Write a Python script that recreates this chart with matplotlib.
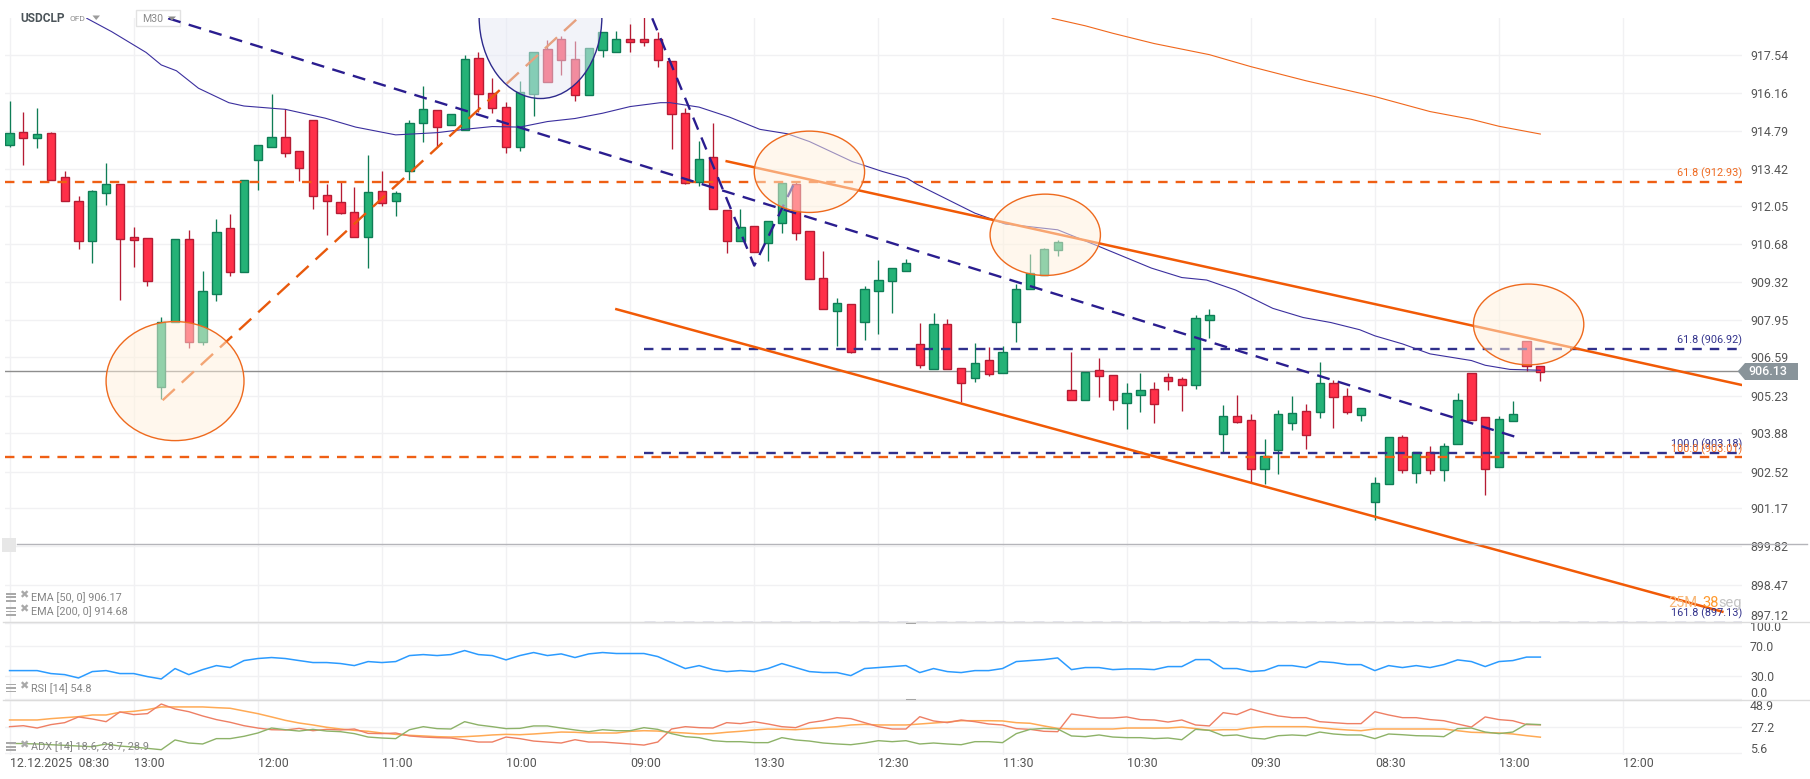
import matplotlib
matplotlib.use('Agg')
import matplotlib.pyplot as plt
from matplotlib.patches import Ellipse, Polygon, Rectangle
from matplotlib.lines import Line2D
from matplotlib.transforms import Affine2D

plt.rcParams['font.family'] = ['Roboto', 'DejaVu Sans']

W, H = 1810, 779

# candles, one row per field
opens = [914.32, 914.77, 914.54, 914.73, 913.14, 912.28, 910.86, 912.59, 912.89, 910.98,
         910.95, 905.60, 907.94, 910.91, 907.22, 908.92, 911.31, 909.74, 913.78, 914.25,
         914.59, 914.08, 915.20, 912.49, 912.24, 911.88, 911.00, 912.64, 912.27, 913.37,
         915.08, 915.56, 915.01, 914.84, 917.43, 916.17, 915.67, 914.25, 916.16, 917.76,
         918.12, 917.40, 916.09, 917.74, 917.67, 918.12, 918.12, 918.12, 917.32, 915.45,
         912.99, 913.87, 911.96, 910.86, 911.38, 910.79, 911.49, 912.89, 911.20, 909.50,
         908.34, 908.57, 907.92, 909.06, 909.42, 909.78, 907.13, 906.24, 907.85, 906.28,
         905.90, 906.55, 906.10, 907.94, 909.13, 909.61, 910.54, 905.47, 905.13, 906.19,
         906.01, 905.02, 905.31, 905.50, 905.94, 905.86, 905.67, 908.01, 903.91, 904.53,
         904.39, 902.65, 903.33, 904.30, 904.71, 904.70, 905.72, 905.25, 904.56, 901.46,
         902.08, 903.77, 902.50, 903.23, 902.61, 903.55, 906.08, 904.50, 902.69, 904.35,
         907.23, 906.33]
highs = [915.89, 915.50, 915.64, 914.78, 913.37, 912.45, 912.69, 913.66, 912.89, 911.35,
         910.95, 908.11, 910.91, 911.25, 909.77, 911.64, 911.82, 913.04, 914.30, 916.15,
         915.59, 914.08, 915.20, 912.90, 912.99, 912.80, 913.95, 913.37, 912.64, 915.20,
         916.44, 915.56, 915.41, 917.54, 917.66, 916.72, 915.86, 916.62, 917.65, 918.09,
         918.24, 918.06, 917.79, 918.37, 918.42, 918.67, 919.17, 918.37, 917.32, 915.63,
         914.45, 915.09, 911.96, 912.00, 911.38, 911.56, 912.93, 912.99, 911.20, 910.48,
         908.78, 908.57, 909.23, 910.15, 909.87, 910.19, 907.90, 908.26, 908.03, 906.28,
         907.17, 907.02, 907.05, 909.30, 910.38, 910.59, 910.89, 906.84, 906.14, 906.62,
         906.01, 905.73, 906.09, 905.77, 906.10, 905.94, 908.17, 908.40, 904.94, 905.30,
         904.60, 903.71, 904.76, 905.27, 904.98, 906.49, 905.84, 905.55, 904.82, 902.33,
         903.77, 903.86, 903.23, 903.45, 903.56, 905.37, 906.08, 904.50, 904.54, 905.08,
         907.23, 906.33]
lows = [914.25, 913.60, 914.20, 913.06, 912.30, 910.56, 910.06, 912.16, 908.72, 909.91,
        909.23, 905.16, 907.94, 907.00, 907.11, 908.70, 909.59, 909.74, 912.69, 914.25,
        913.89, 913.01, 912.00, 911.07, 911.82, 911.00, 909.88, 912.11, 911.75, 913.05,
        914.42, 914.25, 915.01, 914.84, 915.51, 915.47, 914.02, 914.09, 915.35, 916.56,
        916.84, 915.89, 916.09, 917.46, 917.67, 917.64, 917.89, 917.10, 914.16, 912.90,
        912.84, 912.00, 910.43, 910.86, 910.44, 910.14, 911.15, 910.89, 909.47, 908.39,
        907.07, 906.82, 907.28, 907.51, 908.27, 909.78, 906.28, 906.24, 906.24, 905.06,
        905.78, 905.98, 906.08, 907.21, 909.13, 909.61, 910.32, 905.13, 905.13, 905.24,
        904.76, 904.08, 904.69, 904.29, 905.48, 904.72, 905.52, 907.35, 903.23, 904.29,
        902.14, 902.09, 902.45, 904.04, 903.35, 904.47, 904.11, 904.63, 904.36, 900.81,
        902.08, 902.50, 902.14, 902.45, 902.21, 903.55, 904.41, 901.70, 902.69, 904.35,
        906.17, 905.80]
closes = [914.73, 914.54, 914.69, 913.06, 912.30, 910.86, 912.64, 912.89, 910.93, 910.90,
          909.42, 907.94, 910.91, 907.22, 909.04, 911.16, 909.74, 913.04, 914.30, 914.59,
          914.03, 913.49, 912.45, 912.27, 911.87, 911.00, 912.60, 912.23, 912.57, 915.09,
          915.59, 914.97, 915.41, 917.40, 916.16, 915.65, 914.25, 916.21, 917.65, 916.56,
          917.35, 916.09, 917.79, 918.37, 918.12, 918.03, 918.03, 917.35, 915.41, 912.95,
          913.79, 912.00, 910.83, 911.34, 910.44, 911.56, 912.93, 911.13, 909.47, 908.39,
          908.60, 906.86, 909.11, 909.43, 909.87, 910.05, 906.39, 907.85, 906.24, 905.72,
          906.44, 906.07, 906.84, 909.11, 909.69, 910.55, 910.80, 905.13, 906.14, 905.99,
          905.13, 905.36, 905.47, 904.99, 905.82, 905.67, 908.06, 908.17, 904.53, 904.34,
          902.65, 903.09, 904.60, 904.64, 903.87, 905.72, 905.24, 904.70, 904.82, 902.12,
          903.77, 902.61, 903.23, 902.61, 903.45, 905.11, 904.41, 902.65, 904.42, 904.60,
          906.33, 906.13]

# indicators on the price panel
ema50_idx = [5.6, 7.4, 9.9, 11, 12.1, 13.7, 15.9, 17, 20, 22.9, 25.1, 28, 31, 33, 35, 37, 39, 41, 43, 45,
             47.2, 47.9, 50, 52.2, 54.4, 56.4, 58, 61.1, 63.3, 65.1, 65.8, 70, 72.2, 76, 79, 82.8, 85,
             86.8, 88.9, 91.6, 93.8, 95.8, 97.9, 99, 101, 103, 106, 107, 108.8, 111]
ema50 = [918.87, 918.39, 917.64, 917.19, 916.98, 916.35, 915.83, 915.71, 915.59, 915.27, 914.95, 914.67,
         914.75, 914.87, 914.97, 914.95, 915.15, 915.26, 915.45, 915.69, 915.83, 915.83, 915.67, 915.31,
         914.87, 914.71, 914.43, 913.71, 913.35, 913.10, 912.89, 911.85, 911.46, 911.25, 910.65, 909.87,
         909.53, 909.44, 909.08, 908.42, 908.09, 907.91, 907.65, 907.43, 907.14, 906.78, 906.54, 906.37,
         906.22, 906.19]
ema200_idx = [75.6, 78, 80, 83, 87, 90, 94, 99, 103, 106, 108, 111]
ema200 = [918.87, 918.60, 918.33, 917.96, 917.56, 917.13, 916.62, 916.05, 915.51, 915.23, 914.98, 914.70]

# drawn objects
blue_trend_idx, blue_trend = [11.5, 109.2], [918.87, 903.79]
blue_zig_idx, blue_zig = [46.6, 54, 56.9], [918.87, 909.96, 912.93]
orange_rise_idx, orange_rise = [11.1, 41.2], [905.11, 918.87]
channel_up_idx, channel_up = [52, 125.6], [913.72, 905.66]
channel_low_idx, channel_low = [44, 124.2], [908.39, 897.49]
fib_orange = [912.96, 903.05]
fib_blue = [906.95, 903.20, 897.13]
fib_blue_start = 46
last_price = 906.13
last_price_line = 906.15

# ellipses: centre bar, centre price, width in bars, height in price
marks = [(12.0, 905.80, 10.0, 4.29), (58.0, 913.34, 8.0, 2.93), (75.1, 911.07, 8.0, 2.93), (110.15, 907.84, 8.0, 2.91)]
dark_mark = (38.5, 918.93, 8.9, 5.9)

# the labels are rounded, the grid rows in the picture do not sit exactly on them
price_ticks = [917.54, 916.16, 914.79, 913.42, 912.05, 910.68, 909.32, 907.95, 906.59, 905.23,
               903.88, 902.52, 901.17, 899.82, 898.47, 897.12]
price_grid = [917.54, 916.17, 914.80, 913.43, 912.10, 910.73, 909.36, 907.99, 906.66, 905.28,
              903.92, 902.53, 901.21, 899.86, 898.47, 897.12]
rsi_ticks = [100.0, 70.0, 30.0, 0.0]
adx_ticks = [48.9, 27.2, 5.6]
time_idx = [0, 9, 18, 27, 36, 45, 54, 63, 72, 81, 90, 99, 108, 117]
time_labels = ['12.12.2025  08:30', '13:00', '12:00', '11:00', '10:00', '09:00', '13:30', '12:30',
               '11:30', '10:30', '09:30', '08:30', '13:00', '12:00']

rsi = [37.0, 37.0, 37.0, 33.1, 31.7, 27.3, 35.7, 37.0, 33.1, 33.1, 29.1, 26.0, 39.7, 31.7, 38.3, 43.6, 41.0, 50.2, 52.9,
       54.2, 52.9, 50.2, 47.6, 47.6, 46.3, 43.6, 48.9, 47.6, 48.9, 56.8, 58.1, 56.8, 58.1, 63.4, 58.1, 56.8, 51.1, 56.8,
       60.8, 56.8, 59.0, 54.2, 59.0, 60.8, 59.5, 59.5, 59.5, 55.5, 47.6, 39.7, 43.6, 38.3, 35.7, 37.0, 35.7, 39.7, 46.3,
       41.0, 35.7, 34.4, 34.4, 30.4, 39.7, 41.0, 42.3, 43.6, 34.4, 39.7, 35.7, 34.4, 37.0, 37.0, 39.7, 48.9, 50.2,
       51.5, 53.7, 38.3, 41.0, 41.0, 38.3, 39.2, 39.2, 38.3, 42.3, 42.3, 51.5, 51.5, 39.7, 39.7, 35.7, 37.0, 43.6, 43.6,
       41.0, 48.9, 47.6, 44.9, 44.9, 37.0, 43.6, 41.0, 43.6, 41.0, 44.9, 51.1, 48.9, 42.3, 48.9, 50.2, 54.8, 54.8]
adx = [32.7, 32.7, 32.7, 33.8, 34.6, 35.4, 36.8, 36.8, 39.0, 39.8, 41.2, 43.4, 43.4, 43.4, 43.4, 42.8, 42.3, 40.1, 37.9,
       35.2, 32.4, 30.2, 28.6, 26.7, 25.3, 24.2, 23.4, 22.0, 20.9, 20.1, 19.6, 19.0, 18.7, 19.0, 19.6, 20.4, 20.9, 20.6,
       21.2, 22.0, 22.8, 22.6, 22.0, 22.0, 22.0, 23.4, 23.9, 23.6, 22.6, 22.0, 21.2, 21.5, 22.6, 23.4, 24.5, 25.3, 25.0,
       24.7, 25.6, 26.4, 27.2, 28.6, 29.1, 28.6, 28.6, 28.6, 29.4, 30.2, 31.0, 32.1, 32.1, 32.1, 31.9, 30.5, 30.0,
       27.8, 25.8, 25.3, 25.3, 25.3, 25.3, 26.1, 26.1, 26.1, 26.1, 26.9, 25.6, 24.2, 24.7, 24.7, 26.4, 27.2, 27.2, 27.2,
       27.2, 26.4, 25.3, 24.5, 23.9, 25.3, 25.3, 25.3, 25.3, 25.3, 25.3, 23.9, 22.6, 22.3, 22.0, 21.2, 19.8, 18.6]
plus_di = [27.2, 28.0, 26.1, 28.9, 30.5, 35.2, 33.5, 31.3, 39.3, 37.1, 37.9, 45.8, 41.7, 39.5, 36.0, 33.0, 30.8, 28.0,
           26.1, 24.7, 24.5, 25.8, 23.9, 25.0, 24.5, 25.3, 21.7, 21.5, 22.0, 19.6, 18.7, 18.2, 17.9, 16.3, 14.6, 14.6, 18.7, 17.4,
           15.4, 14.6, 13.8, 16.5, 14.6, 14.6, 13.8, 13.0, 12.1, 14.6, 25.3, 27.2, 26.4, 26.1, 30.5, 29.7, 31.3, 29.4, 27.2,
           26.4, 30.5, 32.1, 34.6, 33.8, 30.5, 27.2, 25.3, 25.3, 35.4, 31.9, 30.5, 32.7, 31.3, 29.4, 28.6, 25.6, 25.0,
           23.4, 23.1, 37.6, 36.0, 34.3, 34.3, 35.2, 33.0, 32.7, 31.0, 32.7, 28.6, 27.8, 38.7, 37.1, 41.7, 38.7, 36.0, 34.6,
           34.6, 31.3, 30.5, 29.7, 29.7, 39.5, 36.8, 34.6, 34.6, 33.0, 32.1, 29.4, 26.9, 35.2, 33.0, 32.1, 28.9, 28.7]
minus_di = [13.5, 13.3, 13.0, 12.4, 11.9, 11.3, 10.8, 13.0, 11.3, 10.5, 9.4, 8.3, 16.3, 13.8, 13.0, 17.4, 17.4, 19.3, 22.0,
            26.1, 24.7, 23.6, 25.0, 23.6, 23.1, 21.5, 18.7, 17.9, 17.4, 24.7, 27.2, 25.6, 25.3, 31.3, 28.6, 27.2, 25.6, 25.8,
            27.8, 27.8, 26.1, 24.5, 23.1, 24.7, 23.9, 23.9, 26.4, 25.0, 21.5, 19.0, 18.2, 15.7, 14.9, 14.9, 14.1, 14.1, 18.2,
            16.3, 15.4, 13.8, 13.0, 12.4, 13.8, 15.7, 14.9, 15.7, 13.0, 13.8, 13.0, 12.4, 14.9, 14.9, 14.1, 21.5, 25.0,
            25.8, 25.3, 19.6, 19.0, 20.4, 18.7, 18.2, 18.2, 17.4, 17.9, 16.5, 25.0, 24.2, 19.8, 20.4, 17.9, 17.1, 19.8, 20.4,
            19.8, 22.8, 21.2, 20.4, 20.4, 17.4, 21.2, 20.6, 19.8, 19.6, 19.0, 25.6, 26.1, 22.8, 21.5, 22.8, 29.4, 28.9]


def fx(x):
    return x / W


def fy(y):
    return 1 - y / H


def panel(top, bottom, left=5, right=1741.7):
    a = fig.add_axes([fx(left), fy(bottom), fx(right - left), (bottom - top) / H])
    for s in a.spines.values():
        s.set_visible(False)
    a.patch.set_visible(False)
    a.set_axisbelow(True)
    a.grid(True, color='#f1f1f3', lw=1.0)
    a.yaxis.tick_right()
    a.tick_params(length=0, labelsize=8.9, labelcolor='#555555', pad=6)
    return a


def nudge(label, dy):
    # a few axis labels sit off their grid row so they stay inside the panel
    label.set_va('center')
    label.set_transform(label.get_transform() + Affine2D().translate(0, dy))


def fig_line(x0, x1, y0, y1, color, lw=1.0):
    fig.add_artist(Line2D([fx(x0), fx(x1)], [fy(y0), fy(y1)], color=color, lw=lw))


def legend_row(y, label):
    # the little list and cross icons in front of each indicator name
    for dy in (-4, -0.5, 3):
        fig.add_artist(Rectangle((fx(6), fy(y + dy + 1)), 10 / W, 1.6 / H, color='#a9a9a9', lw=0))
    fig.text(fx(23.5), fy(y - 2), '\u2716', fontsize=8, color='#a9a9a9', ha='center', va='center',
             family='DejaVu Sans')
    fig.text(fx(31), fy(y), label, fontsize=7.8, color='#858585', va='center')


fig = plt.figure(figsize=(W / 100, H / 100), dpi=100, facecolor='white')

xlim = (-0.33, 125.6)

ax = panel(18.3, 622)
ax.set_xlim(xlim)
ax.set_ylim(897.12, 918.87)
ax.set_yticks(price_grid)
ax.set_yticklabels(['%.2f' % t for t in price_ticks])
nudge(ax.get_yticklabels()[-1], 5)
ax.set_xticks(time_idx)
ax.tick_params(labelbottom=False)

# candles
idx = list(range(len(opens)))
for i, o, h, l, c in zip(idx, opens, highs, lows, closes):
    up = c >= o
    fill = '#25b277' if up else '#ff3049'
    edge = '#0f7d56' if up else '#b51c34'
    ax.vlines(i, l, h, color=edge, lw=0.95, zorder=2)
    ax.bar(i, abs(c - o), bottom=min(o, c), width=0.6, color=fill, edgecolor=edge, lw=1.0, zorder=2.1)

# horizontal levels
ax.axhline(last_price_line, color='#8e8e8e', lw=1.0, zorder=1.5)
orange_dash = (0, (4.0, 3.4))
blue_dash = (0, (4.0, 3.4))
ax.hlines(fib_orange, xlim[0], xlim[1], color='#ef5f14', lw=1.7, linestyles=[orange_dash], zorder=3)
ax.hlines(fib_blue[:2], fib_blue_start, xlim[1], color='#30308c', lw=1.7, linestyles=[blue_dash], zorder=3)
ax.hlines(fib_blue[2], fib_blue_start, xlim[1], color='#8a8ab8', lw=1.0, linestyles=[(0, (8, 6))], zorder=3)

# moving averages
ax.plot(ema50_idx, ema50, color='#3b2f9e', lw=0.8, zorder=3)
ax.plot(ema200_idx, ema200, color='#f0671c', lw=0.8, zorder=3)

# trend lines
ax.plot(blue_trend_idx, blue_trend, color='#2a1d8f', lw=1.7, ls=(0, (5.5, 3.6)), zorder=3)
ax.plot(blue_zig_idx, blue_zig, color='#2a1d8f', lw=1.7, ls=(0, (5.5, 3.6)), zorder=3)
ax.plot(orange_rise_idx, orange_rise, color='#e8590c', lw=1.7, ls=(0, (7, 4)), zorder=3)
ax.plot(channel_up_idx, channel_up, color='#f15a06', lw=1.8, zorder=3)
ax.plot(channel_low_idx, channel_low, color='#f15a06', lw=1.8, zorder=3)

# ellipses sit on top and wash out whatever is under them
for cx, cy, w, h in marks:
    ax.add_patch(Ellipse((cx, cy), w, h, facecolor=(1, 0.945, 0.867, 0.5), edgecolor='#ee6a1e', lw=1.0, zorder=4))
ax.add_patch(Ellipse(dark_mark[:2], dark_mark[2], dark_mark[3], facecolor=(0.9, 0.915, 0.96, 0.5),
                     edgecolor='#2d2a8c', lw=1.0, zorder=4))

# rsi panel
ax_rsi = panel(622, 699.5)
ax_rsi.set_xlim(xlim)
ax_rsi.set_ylim(-1.06, 101)
ax_rsi.set_yticks(rsi_ticks)
ax_rsi.set_yticklabels(['%.1f' % t for t in rsi_ticks])
nudge(ax_rsi.get_yticklabels()[0], -5)
nudge(ax_rsi.get_yticklabels()[-1], 4.7)
ax_rsi.set_xticks(time_idx)
ax_rsi.tick_params(labelbottom=False)
ax_rsi.plot(idx, rsi, color='#2b9bff', lw=1.1)

# adx panel
ax_adx = panel(699.5, 755)
ax_adx.set_xlim(xlim)
ax_adx.set_ylim(3.96, 49.5)
ax_adx.set_yticks(adx_ticks)
ax_adx.set_yticklabels(['%.1f' % t for t in adx_ticks])
nudge(ax_adx.get_yticklabels()[0], -6.4)
nudge(ax_adx.get_yticklabels()[-1], 4)
ax_adx.plot(idx, adx, color='#ffaa55', lw=1.1)
ax_adx.plot(idx, plus_di, color='#ee7f64', lw=1.0)
ax_adx.plot(idx, minus_di, color='#8db268', lw=1.0)
ax_adx.set_xticks(time_idx)
ax_adx.set_xticklabels(time_labels, ha='left', fontsize=8.9, color='#555555')
ax_adx.tick_params(axis='x', pad=1.5)

# panel separators and the other full width lines
fig_line(3, 1810, 622, 622, '#dcdcdc', 1.0)
fig_line(3, 1810, 699.5, 699.5, '#dcdcdc', 1.0)
fig_line(17, 1807, 544, 544, '#b5b5ba', 1.0)
fig.add_artist(Rectangle((fx(2), fy(552)), 14 / W, 14 / H, color='#e7e7e7', lw=0))
for y in (622.5, 700):
    fig.add_artist(Rectangle((fx(906), fy(y + 1)), 10 / W, 2 / H, color='#9a9a9a', lw=0))

# level captions, right aligned against the end of the lines
fib_texts = [('61.8 (912.93)', 173, '#ef6a20'), ('61.8 (906.92)', 340, '#33338c'),
             ('100.0 (903.18)', 444, '#33338c'), ('100.0 (903.01)', 449, '#ef6a20'),
             ('161.8 (897.13)', 613, '#33338c')]
for label, y, color in fib_texts:
    fig.text(fx(1742), fy(y), label, fontsize=7.8, color=color, ha='right', va='center')

# countdown
fig.text(fx(1668), fy(603), '25M', fontsize=10.5, color='#f8b878', va='center')
fig.text(fx(1702), fy(603), '38', fontsize=10.5, color='#ff9a2e', va='center')
fig.text(fx(1718), fy(603), 'seg', fontsize=10.5, color='#c3c3c3', va='center')

# last price tag
tag_xy = [(1737.7, 371.3), (1745, 363), (1798, 363), (1798, 380), (1745, 380)]
fig.add_artist(Polygon([(fx(x), fy(y)) for x, y in tag_xy], closed=True, color='#89949a', lw=0))
fig.text(fx(1768), fy(371.3), '%.2f' % last_price, fontsize=9, color='white', weight='medium', ha='center', va='center')

# header, the M30 box goes behind the axes so the trend line runs over it
fig.text(fx(20), fy(18), 'USDCLP', fontsize=8.6, color='#4b5459', weight='bold', va='center')
fig.text(fx(70), fy(19), 'OFD', fontsize=6, color='#8d8d8d', va='center')
fig.add_artist(Polygon([(fx(92.5), fy(15.5)), (fx(100), fy(15.5)), (fx(96.2), fy(20))], closed=True, color='#9b9b9b', lw=0))
fig.add_artist(Rectangle((fx(136), fy(26)), 43.5 / W, 16 / H, facecolor='white', edgecolor='#e2e2e2', lw=1, zorder=-1))
fig.text(fx(142), fy(18.5), 'M30', fontsize=7.6, color='#8a8a8a', va='center')
fig.add_artist(Polygon([(fx(168), fy(16.5)), (fx(176), fy(16.5)), (fx(172), fy(20.5))], closed=True, color='#8a8a8a', lw=0))

legend_row(597.5, 'EMA [50, 0] 906.17')
legend_row(611.7, 'EMA [200, 0] 914.68')
legend_row(688.3, 'RSI [14] 54.8')
legend_row(747, 'ADX [14] 18.6, 28.7, 28.9')

fig.savefig('out.png', dpi=100)
plt.close()
